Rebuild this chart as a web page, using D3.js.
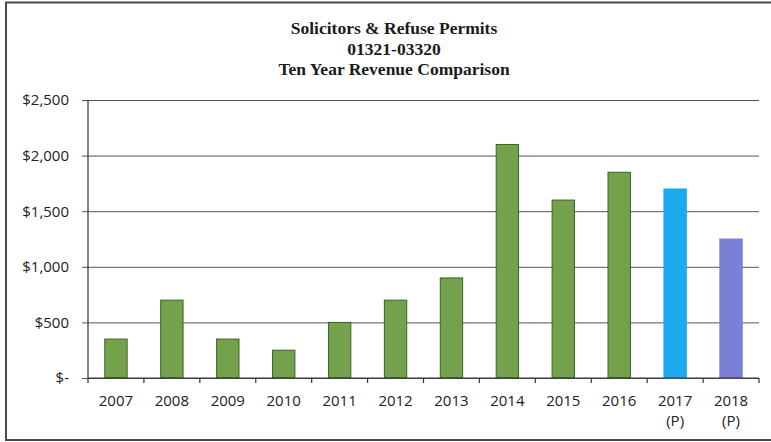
<!DOCTYPE html>
<html>
<head>
<meta charset="utf-8">
<script src="https://cdn.jsdelivr.net/npm/d3@7"></script>
<style>
  html, body { margin: 0; padding: 0; background: #fff; }
  svg { display: block; }
</style>
</head>
<body>
<svg id="chart" width="771" height="442"></svg>
<script>
// Revenue by fiscal year, account 01321-03320
const years = ["2007", "2008", "2009", "2010", "2011", "2012", "2013", "2014", "2015", "2016", "2017", "2018"];
const yearNotes = ["", "", "", "", "", "", "", "", "", "", "(P)", "(P)"];
const revenue = [350, 700, 350, 250, 500, 700, 900, 2100, 1600, 1850, 1700, 1250];
const barKinds = ["actual", "actual", "actual", "actual", "actual", "actual", "actual", "actual", "actual", "actual", "projected", "budget"];
const yTicks = [0, 500, 1000, 1500, 2000, 2500];
const titleLines = ["Solicitors & Refuse Permits", "01321-03320", "Ten Year Revenue Comparison"];

const fills = { actual: "#74a24c", projected: "#1ca9ef", budget: "#7a80d3" };
const strokes = { actual: "#3f5f26", projected: "#1ca9ef", budget: "#7a80d3" };

const svg = d3.select("#chart");
const plot = { left: 88, right: 759, top: 100, bottom: 378 };

// outer frame
svg.append("rect")
  .attr("x", 6).attr("y", 2.5).attr("width", 790).attr("height", 437.5)
  .attr("fill", "none").attr("stroke", "#4a4a4a").attr("stroke-width", 2);

const x = d3.scaleBand()
  .domain(years)
  .range([plot.left, plot.right])
  .paddingInner(0.6)
  .paddingOuter(0.3);

const y = d3.scaleLinear()
  .domain([0, 2500])
  .range([plot.bottom, plot.top]);

// title
svg.append("g")
  .selectAll("text")
  .data(titleLines)
  .join("text")
  .attr("x", 394)
  .attr("y", (d, i) => 34 + i * 20.5)
  .attr("text-anchor", "middle")
  .attr("font-family", "'Liberation Serif', 'Times New Roman', serif")
  .attr("font-weight", "bold")
  .attr("font-size", 17.5)
  .attr("fill", "#1a1a1a")
  .text(d => d);

// y axis with gridlines
const yAxis = d3.axisLeft(y)
  .tickValues(yTicks)
  .tickSize(-(plot.right - plot.left))
  .tickPadding(19)
  .tickFormat(d => d === 0 ? "$-" : "$" + d3.format(",")(d));

const yg = svg.append("g")
  .attr("transform", `translate(${plot.left},0)`)
  .call(yAxis);
yg.select(".domain").remove();
yg.selectAll(".tick line")
  .attr("x1", -6)
  .attr("stroke", "#555")
  .attr("stroke-width", 1);
yg.selectAll(".tick text")
  .attr("font-family", "'Open Sans', sans-serif")
  .attr("font-size", 15)
  .attr("fill", "#222");

// bars
svg.append("g")
  .selectAll("rect")
  .data(years)
  .join("rect")
  .attr("x", d => x(d))
  .attr("width", x.bandwidth())
  .attr("y", (d, i) => y(revenue[i]))
  .attr("height", (d, i) => y(0) - y(revenue[i]))
  .attr("fill", (d, i) => fills[barKinds[i]])
  .attr("stroke", (d, i) => strokes[barKinds[i]])
  .attr("stroke-width", 1);

// vertical axis line
svg.append("line")
  .attr("x1", plot.left).attr("x2", plot.left)
  .attr("y1", y(2500)).attr("y2", y(0))
  .attr("stroke", "#333").attr("stroke-width", 1.2);

// x axis: baseline and category boundary ticks
const boundaries = years.map(d => x(d) - x.step() * x.paddingInner() / 2)
  .concat([plot.right]);
const xg = svg.append("g");
xg.append("line")
  .attr("x1", plot.left).attr("x2", plot.right)
  .attr("y1", y(0)).attr("y2", y(0))
  .attr("stroke", "#333").attr("stroke-width", 1.2);
xg.selectAll("line.tick")
  .data(boundaries)
  .join("line")
  .attr("class", "tick")
  .attr("x1", d => d).attr("x2", d => d)
  .attr("y1", y(0)).attr("y2", y(0) + 5)
  .attr("stroke", "#333").attr("stroke-width", 1.2);

const labels = xg.selectAll("text")
  .data(years)
  .join("text")
  .attr("x", d => x(d) + x.bandwidth() / 2)
  .attr("y", 406)
  .attr("text-anchor", "middle")
  .attr("font-family", "'Open Sans', sans-serif")
  .attr("font-size", 15)
  .attr("fill", "#222");
labels.append("tspan").text(d => d);
labels.append("tspan")
  .attr("x", d => x(d) + x.bandwidth() / 2)
  .attr("dy", 19.5)
  .text((d, i) => yearNotes[i]);
</script>
</body>
</html>
